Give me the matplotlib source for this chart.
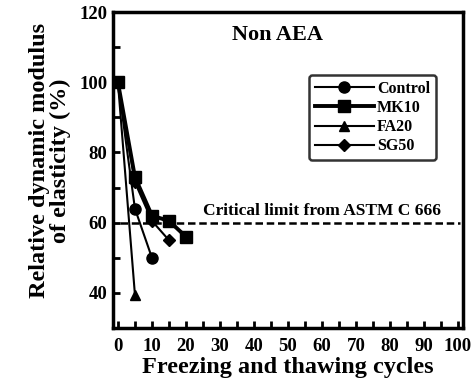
import matplotlib
matplotlib.use("Agg")
import matplotlib.pyplot as plt
from matplotlib.ticker import MultipleLocator

plt.rcParams['font.family'] = ['Liberation Serif', 'DejaVu Serif']
plt.rcParams['font.weight'] = 'bold'

# data
control_x = [0, 5, 10]
control_y = [100, 64, 50]
mk10_x = [0, 5, 10, 15, 20]
mk10_y = [100, 73, 62, 60.5, 56]
fa20_x = [0, 5]
fa20_y = [100, 39.5]
sg50_x = [0, 5, 10, 15]
sg50_y = [100, 71.5, 60.5, 55]
critical_limit = 60

fig = plt.figure(figsize=(4.76, 3.89), dpi=100)
ax = fig.add_axes([0.237, 0.157, 0.736, 0.812])

ax.plot(control_x, control_y, '-o', color='k', lw=1.5, ms=8, label='Control')
ax.plot(mk10_x, mk10_y, '-s', color='k', lw=2.8, ms=9, label='MK10')
ax.plot(fa20_x, fa20_y, '-^', color='k', lw=1.5, ms=7.5, label='FA20')
ax.plot(sg50_x, sg50_y, '-D', color='k', lw=1.5, ms=6.5, label='SG50')

ax.axhline(critical_limit, xmin=0.02, xmax=0.99, color='k', ls=(0, (3, 1.5)), lw=1.8, zorder=1)
ax.text(60, critical_limit + 1.0, 'Critical limit from ASTM C 666', ha='center', va='bottom',
        fontsize=12.5, fontweight='bold')
ax.text(47, 113.5, 'Non AEA', ha='center', va='center', fontsize=16, fontweight='bold')

ax.set_xlim(-1.5, 101.5)
ax.set_ylim(30, 120)
ax.xaxis.set_major_locator(MultipleLocator(10))
ax.xaxis.set_minor_locator(MultipleLocator(5))
ax.yaxis.set_major_locator(MultipleLocator(20))
ax.yaxis.set_minor_locator(MultipleLocator(10))
ax.set_yticks([40, 60, 80, 100, 120])
ax.tick_params(which='both', direction='in', width=2, labelsize=13.5, top=False, right=False)
ax.tick_params(which='major', length=5)
ax.tick_params(which='minor', length=5)
ax.tick_params(axis='x', pad=7)
ax.tick_params(axis='y', pad=4)
for lab in ax.get_xticklabels() + ax.get_yticklabels():
    lab.set_fontweight('bold')
for s in ax.spines.values():
    s.set_linewidth(2.5)

ax.set_xlabel('Freezing and thawing cycles', fontsize=17.5, fontweight='bold', labelpad=2)
ax.set_ylabel('Relative dynamic modulus\nof elasticity (%)', fontsize=17.5, fontweight='bold',
              linespacing=0.95)
ax.yaxis.set_label_coords(-0.12, 0.53)

leg = ax.legend(loc='upper right', bbox_to_anchor=(0.922, 0.8), frameon=True, fancybox=True,
                edgecolor='k', handlelength=3.7, handletextpad=0.2, labelspacing=0.2,
                borderpad=0.35, borderaxespad=0, prop={'size': 11.5, 'weight': 'bold'})
leg.get_frame().set_linewidth(1.8)

fig.savefig('out.png', dpi=100)
